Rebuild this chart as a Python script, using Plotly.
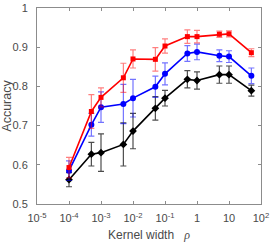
import plotly.graph_objects as go

rho = [1e-4, 5e-4, 1e-3, 5e-3, 1e-2, 5e-2, 0.1, 0.5, 1, 5, 10, 50]

red_acc = [0.593, 0.736, 0.772, 0.822, 0.870, 0.869, 0.903, 0.927, 0.927, 0.933, 0.934, 0.886]
red_err = [0.026, 0.043, 0.024, 0.037, 0.023, 0.030, 0.018, 0.017, 0.016, 0.008, 0.008, 0.010]

blue_acc = [0.585, 0.702, 0.747, 0.755, 0.770, 0.799, 0.832, 0.884, 0.888, 0.878, 0.876, 0.827]
blue_err = [0.025, 0.029, 0.039, 0.050, 0.048, 0.027, 0.028, 0.020, 0.020, 0.015, 0.015, 0.020]

black_acc = [0.562, 0.627, 0.631, 0.652, 0.686, 0.744, 0.770, 0.818, 0.815, 0.830, 0.830, 0.789]
black_err = [0.018, 0.030, 0.048, 0.055, 0.045, 0.030, 0.020, 0.022, 0.022, 0.022, 0.022, 0.014]

xtick_vals = [1e-5, 1e-4, 1e-3, 1e-2, 1e-1, 1, 10, 100]
xtick_text = ["10<sup>-5</sup>", "10<sup>-4</sup>", "10<sup>-3</sup>", "10<sup>-2</sup>",
              "10<sup>-1</sup>", "1", "10", "10<sup>2</sup>"]
ytick_vals = [0.5, 0.6, 0.7, 0.8, 0.9, 1.0]
ytick_text = ["0.5", "0.6", "0.7", "0.8", "0.9", "1"]

FONT = "Liberation Sans, Arial, Helvetica, sans-serif"
TXT = "#4a4a4a"

fig = go.Figure()

series = [
    (black_acc, black_err, "#000000", "rgba(0,0,0,0.7)", "diamond", 6),
    (blue_acc, blue_err, "#0000ff", "rgba(0,0,255,0.55)", "circle", 6),
    (red_acc, red_err, "#ff0000", "rgba(255,0,0,0.5)", "square", 5),
]
for acc, err, col, ecol, sym, size in series:
    fig.add_trace(go.Scatter(
        x=rho, y=acc, mode="lines+markers",
        line=dict(color=col, width=1.6),
        marker=dict(color=col, symbol=sym, size=size),
        error_y=dict(type="data", array=err, visible=True, color=ecol,
                     thickness=1.2, width=3),
        showlegend=False,
    ))

axis_common = dict(
    showgrid=False, zeroline=False, showline=True, mirror="ticks",
    linecolor="#8c8c8c", linewidth=1, ticks="inside", ticklen=3,
    tickcolor="#8c8c8c", tickfont=dict(family=FONT, size=11, color=TXT),
    automargin=False,
)

fig.update_layout(
    width=273, height=245,
    margin=dict(l=37, r=12, t=8, b=41),
    paper_bgcolor="white", plot_bgcolor="white",
    xaxis=dict(type="log", range=[-5, 2], tickvals=xtick_vals, ticktext=xtick_text,
               ticklabelstandoff=4,
               title=dict(text="Kernel width   <i><span style='font-family:Liberation Serif, Times New Roman, serif'>ρ</span></i>",
                          standoff=7,
                          font=dict(family=FONT, size=12, color=TXT)),
               **axis_common),
    yaxis=dict(range=[0.5, 1.0], tickvals=ytick_vals, ticktext=ytick_text,
               ticklabelstandoff=6,
               title=dict(text="Accuracy", standoff=0,
                          font=dict(family=FONT, size=12.5, color=TXT)),
               **axis_common),
)

fig.write_html("out.html", config={"displayModeBar": False},
               post_script="document.body.style.margin='0px';")
